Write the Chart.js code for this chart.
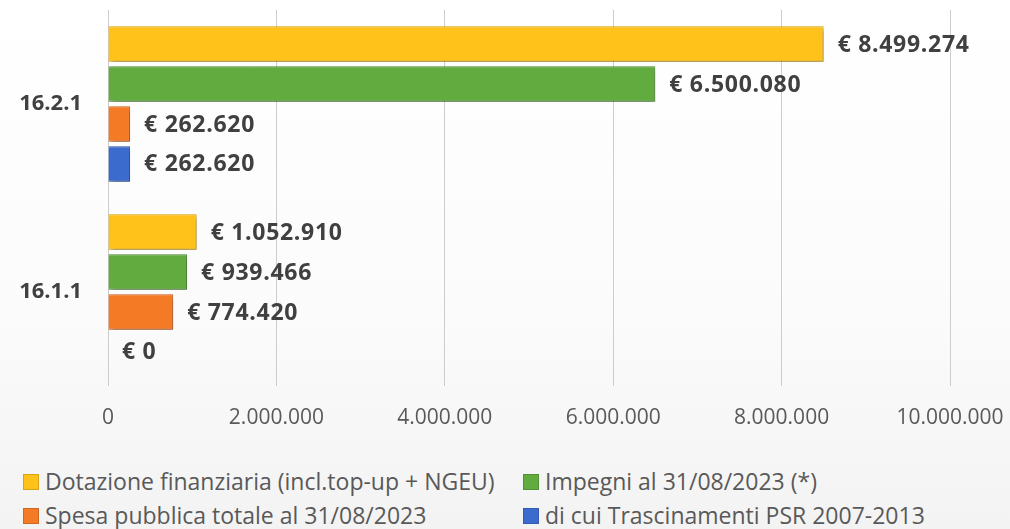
<!DOCTYPE html>
<html>
<head>
<meta charset="utf-8">
<script src="https://cdn.jsdelivr.net/npm/chart.js@4/dist/chart.umd.min.js"></script>
<style>
  html, body { margin: 0; padding: 0; }
  body {
    width: 1010px; height: 529px; overflow: hidden; position: relative;
    background: linear-gradient(#ffffff 0%, #fbfbfb 60%, #f3f3f3 100%);
    font-family: "Open Sans", sans-serif;
  }
  #wrap { position: absolute; left: 0; top: 0; width: 1010px; height: 445px; }
  .leg { position: absolute; font-size: 23px; color: #595959; white-space: nowrap; line-height: 30px; }
  .leg i { display: inline-block; width: 14px; height: 14px; margin-right: 6px; vertical-align: 0px; border: 1px solid rgba(0,0,0,0.15); }
</style>
</head>
<body>
<div id="wrap"><canvas id="chart"></canvas></div>
<div class="leg" style="left:23px; top:466px;"><i style="background:#ffc21a"></i>Dotazione finanziaria (incl.top-up + NGEU)</div>
<div class="leg" style="left:523px; top:466px;"><i style="background:#62ab3f"></i>Impegni al 31/08/2023 (*)</div>
<div class="leg" style="left:23px; top:500px;"><i style="background:#f47a26"></i>Spesa pubblica totale al 31/08/2023</div>
<div class="leg" style="left:523px; top:500px;"><i style="background:#3b6bcc"></i>di cui Trascinamenti PSR 2007-2013</div>
<script>
const categories = ['16.2.1', '16.1.1'];
const dotazione = [8499274, 1052910];
const impegni = [6500080, 939466];
const spesa = [262620, 774420];
const trascinamenti = [262620, 0];
const xTicks = [0, 2000000, 4000000, 6000000, 8000000, 10000000];

function fmt(v) {
    return String(Math.round(v)).replace(/\B(?=(\d{3})+(?!\d))/g, '.');
}

const barShadow = {
    id: 'barShadow',
    beforeDatasetsDraw(chart) {
        const ctx = chart.ctx;
        ctx.save();
        ctx.shadowColor = 'rgba(0,0,0,0.35)';
        ctx.shadowBlur = 5;
        ctx.shadowOffsetX = 2;
        ctx.shadowOffsetY = 3;
    },
    afterDatasetsDraw(chart) {
        chart.ctx.restore();
        // value labels at the end of each bar
        const ctx = chart.ctx;
        ctx.save();
        ctx.font = 'bold 23px "Open Sans"';
        ctx.letterSpacing = '0.7px';
        ctx.fillStyle = '#404040';
        ctx.textBaseline = 'middle';
        chart.data.datasets.forEach((ds, i) => {
            chart.getDatasetMeta(i).data.forEach((bar, j) => {
                ctx.fillText('€ ' + fmt(ds.data[j]), bar.x + 14, bar.y + 1);
            });
        });
        ctx.restore();
    }
};

new Chart(document.getElementById('chart'), {
    type: 'bar',
    data: {
        labels: categories,
        datasets: [
            { label: 'Dotazione finanziaria (incl.top-up + NGEU)', data: dotazione,
              backgroundColor: '#ffc21a', borderColor: '#e6a700' },
            { label: 'Impegni al 31/08/2023 (*)', data: impegni,
              backgroundColor: '#62ab3f', borderColor: '#4f9130' },
            { label: 'Spesa pubblica totale al 31/08/2023', data: spesa,
              backgroundColor: '#f47a26', borderColor: '#d9621a' },
            { label: 'di cui Trascinamenti PSR 2007-2013', data: trascinamenti,
              backgroundColor: '#3b6bcc', borderColor: '#2c55a8' }
        ]
    },
    options: {
        indexAxis: 'y',
        responsive: true,
        maintainAspectRatio: false,
        animation: false,
        layout: { padding: { top: 10, right: 60, left: 0, bottom: 0 } },
        datasets: {
            bar: { categoryPercentage: 0.85, barPercentage: 0.89, borderWidth: 1 }
        },
        plugins: {
            legend: { display: false },
            tooltip: { enabled: false }
        },
        scales: {
            x: {
                min: 0,
                max: 10000000,
                afterBuildTicks: (scale) => { scale.ticks = xTicks.map(v => ({ value: v })); },
                afterFit: (scale) => {
                    scale.height = 59;
                    scale.paddingLeft = 0;
                    scale.paddingRight = 0;
                },
                grid: { color: '#cdcdcd', lineWidth: 1, drawTicks: false },
                border: { display: false },
                ticks: {
                    padding: 19,
                    color: '#595959',
                    font: { family: 'Open Sans', size: 21 },
                    callback: (v) => fmt(v)
                }
            },
            y: {
                afterFit: (scale) => {
                    scale.width = 108;
                    scale.paddingTop = 0;
                    scale.paddingBottom = 0;
                },
                grid: { display: false, drawTicks: false },
                border: { display: false },
                ticks: {
                    padding: 26,
                    color: '#404040',
                    font: { family: 'Open Sans', size: 22, weight: 'bold' }
                }
            }
        }
    },
    plugins: [barShadow]
});
</script>
</body>
</html>
